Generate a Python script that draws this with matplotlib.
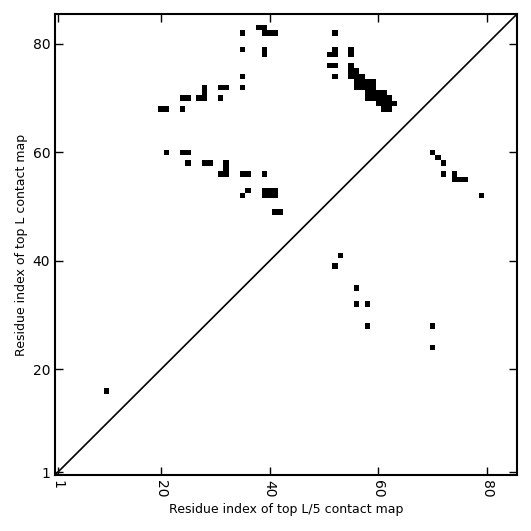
import numpy as np
import matplotlib
matplotlib.use("Agg")
import matplotlib.pyplot as plt

L = 85
# contacts (residue i on x, residue j on y)
contact_x = [35, 38, 39, 39, 40, 41, 35, 39, 39, 35, 35, 31, 32, 28, 28, 28, 27, 31, 24, 25, 20, 21, 24,
             21, 24, 25, 25, 28, 29, 32, 32, 32, 31, 35, 36, 39, 36, 35,
             39, 40, 41, 39, 40, 41, 41, 42,
             52, 52, 51, 52, 55, 55, 51, 52, 52,
             55, 55, 56, 55, 56, 57, 56, 57, 58, 59, 56, 57, 58, 59, 58, 59, 60, 61,
             58, 59, 60, 61, 62, 60, 61, 62, 63, 61, 62,
             70, 71, 72, 72, 74, 74, 75, 76, 79,
             53, 52, 56, 56, 58, 58, 70, 70, 10]
contact_y = [82, 83, 83, 82, 82, 82, 79, 79, 78, 74, 72, 72, 72, 72, 71, 70, 70, 70, 70, 70, 68, 68, 68,
             60, 60, 60, 58, 58, 58, 58, 57, 56, 56, 56, 56, 56, 53, 52,
             52, 52, 52, 53, 53, 53, 49, 49,
             82, 79, 78, 78, 79, 78, 76, 76, 74,
             76, 75, 75, 74, 74, 74, 73, 73, 73, 73, 72, 72, 72, 72, 71, 71, 71, 71,
             70, 70, 70, 70, 70, 69, 69, 69, 69, 68, 68,
             60, 59, 58, 56, 56, 55, 55, 55, 52,
             41, 39, 35, 32, 32, 28, 28, 24, 16]
xticks = [1, 20, 40, 60, 80]
yticks = [1, 20, 40, 60, 80]

mat = np.zeros((L, L))
for i, j in zip(contact_x, contact_y):
    mat[j - 1, i - 1] = 1

fig = plt.figure(figsize=(5.31, 5.31), dpi=100)
ax = fig.add_axes([55/531, 56/531, 462/531, 461/531])
ax.imshow(mat, cmap="Greys", vmin=0, vmax=1, origin="lower",
          extent=(0.5, L + 0.5, 0.5, L + 0.5), interpolation="nearest", aspect="auto")
ax.plot([0.5, L + 0.5], [0.5, L + 0.5], color="black", lw=1.2)
ax.set_xlim(0.5, L + 0.5)
ax.set_ylim(0.5, L + 0.5)
ax.set_xticks(xticks)
ax.set_yticks(yticks)
ax.set_xticklabels([str(t) for t in xticks], rotation=-90)
ax.tick_params(direction="in", top=True, right=True, length=6, width=1, labelsize=10)
for s in ax.spines.values():
    s.set_linewidth(1.5)
ax.set_xlabel("Residue index of top L/5 contact map", fontsize=9, labelpad=4)
ax.set_ylabel("Residue index of top L contact map", fontsize=9, labelpad=3)
fig.savefig("out.png", dpi=100)
